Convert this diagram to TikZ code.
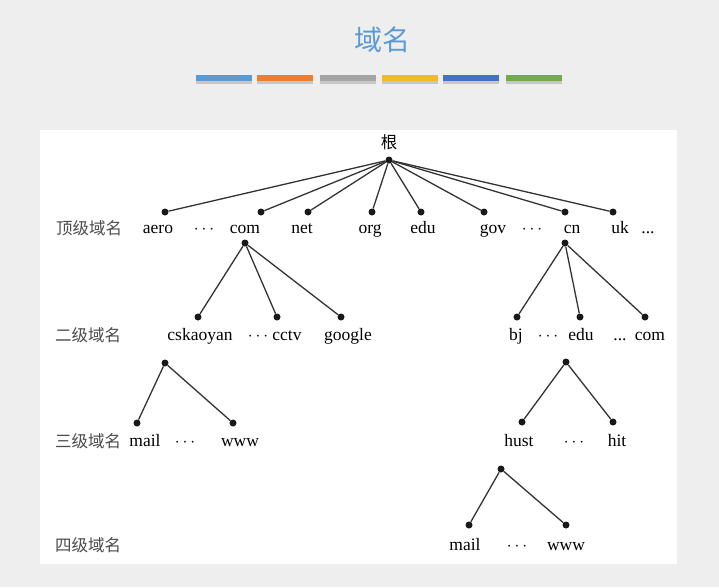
\documentclass[tikz,border=0pt]{standalone}
\usepackage{fontspec}
\setmainfont{Liberation Serif}
\newfontfamily\cjk{Noto Sans CJK SC}
\begin{document}
\begin{tikzpicture}[x=1pt,y=-1pt,
  dot/.style={circle,fill=black!90,inner sep=0pt,minimum size=7pt},
  edge/.style={draw=black!80,line width=1.3pt},
  lab/.style={font=\fontsize{17.5}{18}\selectfont,inner sep=0pt,anchor=base},
  lvl/.style={font=\cjk\fontsize{16.5}{18}\selectfont,text=black!70,inner sep=0pt,anchor=center},
  bar/.style={minimum width=56pt,minimum height=6pt,inner sep=0pt}]
\definecolor{bgc}{HTML}{EEEEEE}
\definecolor{tblue}{HTML}{5B9BD5}
\definecolor{c1}{HTML}{5B9BD5}
\definecolor{c2}{HTML}{ED7D31}
\definecolor{c3}{HTML}{A5A5A5}
\definecolor{c4}{HTML}{F5B828}
\definecolor{c5}{HTML}{4472C4}
\definecolor{c6}{HTML}{70AD47}
\useasboundingbox (0,0) rectangle (719,587);
\fill[bgc] (0,0) rectangle (719,587);
\fill[white] (40,130) rectangle (677,564);
% title
\node[font=\cjk\fontsize{28}{30}\selectfont,text=tblue,inner sep=0pt] (title) at (382,40) {域名};
% bars
\foreach \x/\c [count=\i] in {224/c1,284.5/c2,347.5/c3,409.5/c4,470.5/c5,534/c6}{
  \node[bar,fill=black!22] (sh\i) at (\x,80.5) {};
  \node[bar,fill=\c] (bar\i) at (\x,78) {};
}
% level labels
\node[lvl] (l1) at (89,228) {顶级域名};
\node[lvl] (l2) at (88,335) {二级域名};
\node[lvl] (l3) at (88,441) {三级域名};
\node[lvl] (l4) at (88,545) {四级域名};
% root
\node[font=\cjk\fontsize{16.5}{18}\selectfont,inner sep=0pt] (rootl) at (389,142) {根};
\node[dot] (r) at (389,160) {};
% top level dots
\node[dot] (aero) at (165,212) {};
\node[dot] (com) at (261,212) {};
\node[dot] (net) at (308,212) {};
\node[dot] (org) at (372,212) {};
\node[dot] (edu) at (421,212) {};
\node[dot] (gov) at (484,212) {};
\node[dot] (cn) at (565,212) {};
\node[dot] (uk) at (613,212) {};
\foreach \n in {aero,com,net,org,edu,gov,cn,uk} \draw[edge] (r) -- (\n);
% top level labels
\node[lab] (taero) at (158,233) {aero};
\node[lab] (td1) at (204,233) {$\cdots$};
\node[lab] (tcom) at (245,233) {com};
\node[lab] (tnet) at (302,233) {net};
\node[lab] (torg) at (370,233) {org};
\node[lab] (tedu) at (423,233) {edu};
\node[lab] (tgov) at (493,233) {gov};
\node[lab] (td2) at (532,233) {$\cdots$};
\node[lab] (tcn) at (572,233) {cn};
\node[lab] (tuk) at (620,233) {uk};
\node[lab] (td3) at (648,233) {...};
% com subtree
\node[dot] (comb) at (245,243) {};
\node[dot] (csk) at (198,317) {};
\node[dot] (cctv) at (277,317) {};
\node[dot] (goog) at (341,317) {};
\foreach \n in {csk,cctv,goog} \draw[edge] (comb) -- (\n);
\node[lab] (tcsk) at (200,340) {cskaoyan};
\node[lab] (td4) at (258,340) {$\cdots$};
\node[lab] (tcctv) at (287,340) {cctv};
\node[lab] (tgoog) at (348,340) {google};
\node[dot] (cskb) at (165,363) {};
\node[dot] (mail1) at (137,423) {};
\node[dot] (www1) at (233,423) {};
\foreach \n in {mail1,www1} \draw[edge] (cskb) -- (\n);
\node[lab] (tmail1) at (145,446) {mail};
\node[lab] (td5) at (185,446) {$\cdots$};
\node[lab] (twww1) at (240,446) {www};
% cn subtree
\node[dot] (cnb) at (565,243) {};
\node[dot] (bj) at (517,317) {};
\node[dot] (cedu) at (580,317) {};
\node[dot] (ccom) at (645,317) {};
\foreach \n in {bj,cedu,ccom} \draw[edge] (cnb) -- (\n);
\node[lab] (tbj) at (516,340) {bj};
\node[lab] (td6) at (548,340) {$\cdots$};
\node[lab] (tcedu) at (581,340) {edu};
\node[lab] (td7) at (620,340) {...};
\node[lab] (tccom) at (650,340) {com};
\node[dot] (cedub) at (566,362) {};
\node[dot] (hust) at (522,422) {};
\node[dot] (hit) at (613,422) {};
\foreach \n in {hust,hit} \draw[edge] (cedub) -- (\n);
\node[lab] (thust) at (519,446) {hust};
\node[lab] (td8) at (574,446) {$\cdots$};
\node[lab] (thit) at (617,446) {hit};
\node[dot] (hustb) at (501,469) {};
\node[dot] (mail2) at (469,525) {};
\node[dot] (www2) at (566,525) {};
\foreach \n in {mail2,www2} \draw[edge] (hustb) -- (\n);
\node[lab] (tmail2) at (465,550) {mail};
\node[lab] (td9) at (517,550) {$\cdots$};
\node[lab] (twww2) at (566,550) {www};
\end{tikzpicture}
\end{document}
